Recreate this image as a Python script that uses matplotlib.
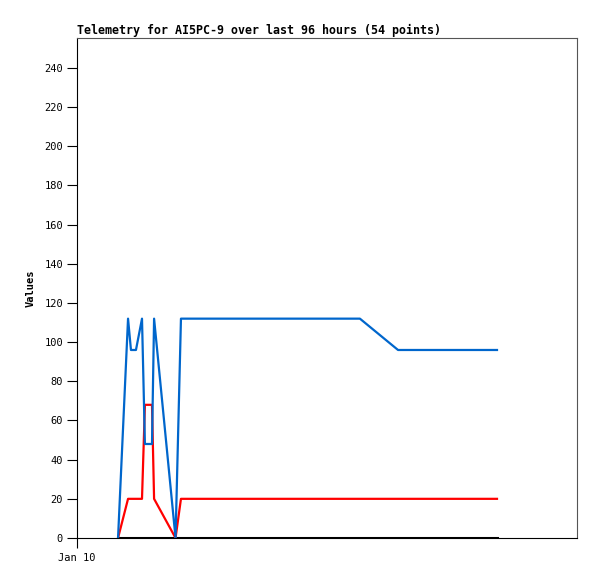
import matplotlib
matplotlib.use("Agg")
import matplotlib.pyplot as plt

# hours since Jan 10 00:00
blue_t = [1.97, 2.45, 2.59, 2.83, 3.12, 3.26, 3.60, 3.70, 4.73, 4.99, 13.58, 15.41, 20.16]
blue_v = [0, 112, 96, 96, 112, 48, 48, 112, 0, 112, 112, 96, 96]

red_t = [1.97, 2.45, 3.12, 3.26, 3.60, 3.70, 4.73, 4.99, 20.16]
red_v = [0, 20, 20, 68, 68, 20, 0, 20, 20]

black_t = [1.97, 20.16]
black_v = [0, 0]

x_ticks = [0]
x_labels = ["Jan 10"]
y_ticks = list(range(0, 260, 20))

plt.rcParams['font.family'] = ['DejaVu Sans Mono']
plt.rcParams['font.size'] = 7.5

fig = plt.figure(figsize=(5.97, 5.79), dpi=100)
ax = fig.add_axes([77 / 597, 41 / 579, 500 / 597, 500 / 579])

ax.plot(black_t, black_v, color="black", lw=2.2, solid_joinstyle="miter")
ax.plot(red_t, red_v, color="#ff0000", lw=1.6)
ax.plot(blue_t, blue_v, color="#0066cc", lw=1.6)

ax.set_xlim(0, 24)
ax.set_ylim(0, 255.3)
ax.set_yticks(y_ticks)
ax.set_xticks(x_ticks)
ax.set_xticklabels(x_labels)
ax.tick_params(direction="out", length=7, width=0.8, pad=3)
ax.tick_params(axis="x", pad=4)

for side in ["top", "right"]:
    ax.spines[side].set_color("#555555")
    ax.spines[side].set_linewidth(0.8)
for side in ["left", "bottom"]:
    ax.spines[side].set_color("black")
    ax.spines[side].set_linewidth(0.8)

ax.set_ylabel("Values", fontweight="bold", labelpad=6)
ax.set_title("Telemetry for AI5PC-9 over last 96 hours (54 points)",
             loc="left", fontweight="bold", fontsize=8.4, pad=3)

fig.savefig("out.png", dpi=100)
